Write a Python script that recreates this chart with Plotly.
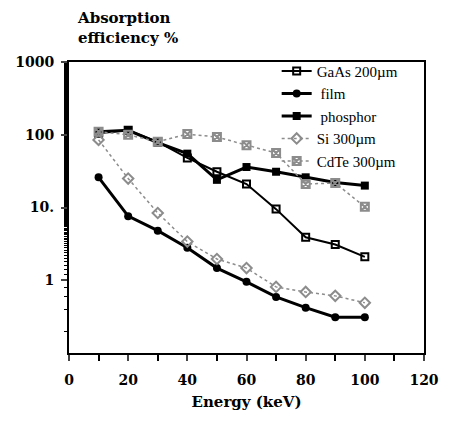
import plotly.graph_objects as go

energy = [10, 20, 30, 40, 50, 60, 70, 80, 90, 100]
gaas = [105, 115, 80, 48, 31, 21, 9.5, 3.9, 3.1, 2.1]
film = [26, 7.6, 4.8, 2.8, 1.47, 0.95, 0.59, 0.42, 0.31, 0.31]
phosphor = [110, 115, 78, 55, 24, 36, 31, 26, 22, 20]
si = [85, 25, 8.4, 3.4, 1.96, 1.47, 0.81, 0.69, 0.61, 0.49]
cdte = [110, 100, 80, 102, 93, 72, 56, 21, 21.7, 10.2]

y_tickvals = [1, 10, 100, 1000]
y_ticktext = ["1", "10.", "100", "1000"]
x_tickvals = [0, 20, 40, 60, 80, 100, 120]

FONT = "Liberation Serif"
BFONT = "DejaVu Serif"
gray = "#8c8c8c"

fig = go.Figure()
fig.add_trace(go.Scatter(x=energy, y=gaas, name="GaAs 200µm", mode="lines+markers",
                         line=dict(color="black", width=2),
                         marker=dict(symbol="square-open", size=7, color="black", line=dict(width=2))))
fig.add_trace(go.Scatter(x=energy, y=film, name=" film", mode="lines+markers",
                         line=dict(color="black", width=3),
                         marker=dict(symbol="circle", size=8, color="black")))
fig.add_trace(go.Scatter(x=energy, y=phosphor, name=" phosphor", mode="lines+markers",
                         line=dict(color="black", width=3),
                         marker=dict(symbol="square", size=8, color="black")))
fig.add_trace(go.Scatter(x=energy, y=si, name="Si 300µm", mode="lines+markers",
                         line=dict(color=gray, width=1.5, dash="dot"),
                         marker=dict(symbol="diamond-open", size=8, color=gray, line=dict(width=2))))
fig.add_trace(go.Scatter(x=energy, y=cdte, name="CdTe 300µm", mode="lines+markers",
                         line=dict(color=gray, width=1.5, dash="dot"),
                         marker=dict(symbol="square-x-open", size=8, color=gray, line=dict(width=2))))

fig.update_layout(
    width=451, height=423,
    margin=dict(l=69, r=14, t=62, b=70),
    paper_bgcolor="white", plot_bgcolor="white",
    font=dict(family=FONT, color="black"),
    showlegend=True,
    legend=dict(x=0.585, y=1.025, xanchor="left", yanchor="top",
                bgcolor="rgba(0,0,0,0)", font=dict(family=FONT, size=15, color="black"),
                tracegroupgap=0, itemwidth=30),
    xaxis=dict(range=[0, 120], tickvals=x_tickvals,
               ticktext=["<b>%d</b>" % v for v in x_tickvals],
               ticks="outside", ticklen=6, ticklabeloverflow="allow",
               tickwidth=2, showline=True, linewidth=2, linecolor="black", mirror=True,
               showgrid=False, zeroline=False, ticklabelstandoff=7,
               minor=dict(dtick=10, ticks="outside", ticklen=6, tickwidth=2, tickcolor="black"),
               tickfont=dict(family=BFONT, size=14, color="black"),
               title=dict(text="<b>Energy (keV)</b>", font=dict(family=BFONT, size=15, color="black"),
                          standoff=10)),
    yaxis=dict(type="log", range=[-1, 3], tickvals=y_tickvals,
               ticktext=["<b>%s</b>" % t for t in y_ticktext],
               ticks="outside", ticklen=6, tickwidth=2, showline=True, linewidth=2,
               linecolor="black", mirror=True, showgrid=False, zeroline=False,
               ticklabelstandoff=4,
               minor=dict(ticks="outside", ticklen=3, tickwidth=1, tickcolor="black"),
               tickfont=dict(family=BFONT, size=14, color="black")),
    annotations=[dict(text="<b>Absorption<br>efficiency %</b>", xref="paper", yref="paper",
                      x=0.016, y=1.19, xanchor="left", yanchor="top", align="left",
                      showarrow=False, font=dict(family=BFONT, size=15, color="black"))],
)

fig.write_html("out.html")
